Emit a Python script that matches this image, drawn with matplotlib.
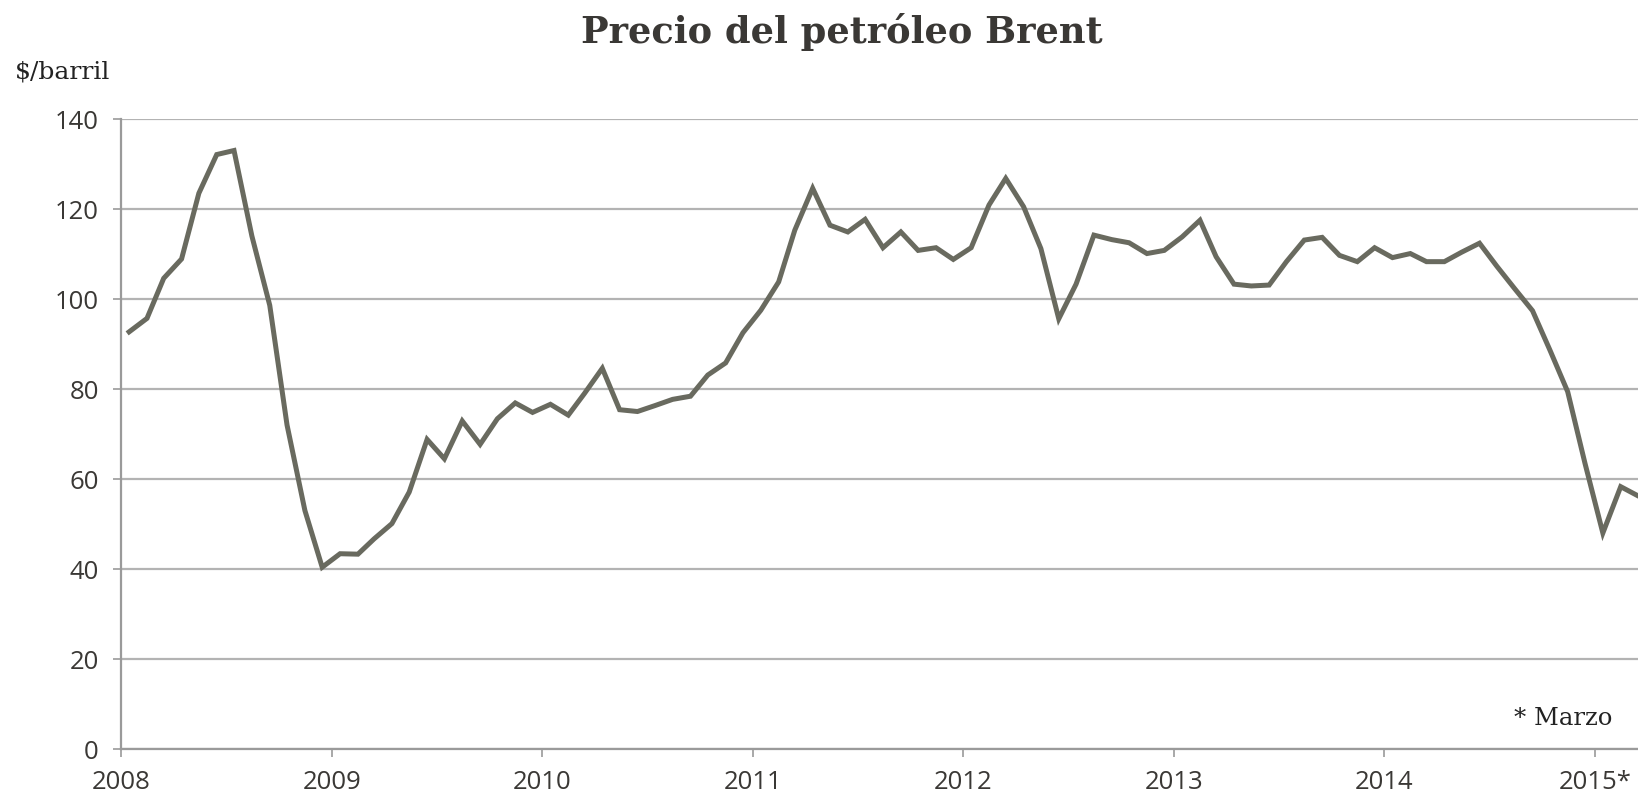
import pandas as pd
import matplotlib.pyplot as plt

# monthly Brent price, $/barrel, Jan 2008 - Mar 2015
p2008 = [92.7, 95.7, 104.6, 108.9, 123.5, 132.1, 133.0, 114.0, 98.6, 72.0, 53.0, 40.4]
p2009 = [43.4, 43.3, 46.7, 50.1, 57.1, 68.8, 64.5, 72.9, 67.7, 73.4, 76.9, 74.8]
p2010 = [76.6, 74.2, 79.0, 84.6, 75.4, 75.0, 76.3, 77.7, 78.4, 83.1, 85.8, 92.5]
p2011 = [97.5, 103.8, 115.3, 124.6, 116.4, 114.9, 117.7, 111.4, 114.9, 110.8, 111.4, 108.8]
p2012 = [111.4, 120.9, 126.8, 120.5, 111.2, 95.6, 103.3, 114.2, 113.2, 112.5, 110.1, 110.8]
p2013 = [113.8, 117.5, 109.4, 103.3, 102.9, 103.1, 108.3, 113.1, 113.7, 109.7, 108.3, 111.4]
p2014 = [109.2, 110.1, 108.3, 108.3, 110.4, 112.4, 107.3, 102.3, 97.4, 88.7, 79.4, 63.5]
p2015 = [48.0, 58.3, 56.4]

prices = p2008 + p2009 + p2010 + p2011 + p2012 + p2013 + p2014 + p2015
dates = pd.date_range("2008-01-01", periods=len(prices), freq="MS") + pd.Timedelta(days=14)

years = ["2008", "2009", "2010", "2011", "2012", "2013", "2014", "2015*"]
year_ticks = pd.to_datetime([f"{y}-01-01" for y in range(2008, 2016)])
y_ticks = list(range(0, 141, 20))

line_col = "#696a5f"
grid_col = "#b3b3b3"
text_col = "#3a3835"

fig = plt.figure(figsize=(16.38, 7.96), dpi=100)
ax = fig.add_axes([0.0739, 0.059, 1 - 0.0739, 0.7915])

ax.plot(dates, prices, color=line_col, lw=3.6, solid_joinstyle="miter")

ax.set_ylim(0, 140)
ax.set_xlim(pd.Timestamp("2008-01-01"), pd.Timestamp("2015-03-17"))
ax.set_yticks(y_ticks)
ax.set_xticks(year_ticks)
ax.set_xticklabels(years)

ax.grid(axis="y", color=grid_col, lw=1.6)
ax.set_axisbelow(True)
for s in ["top", "right"]:
    ax.spines[s].set_visible(False)
for s in ["left", "bottom"]:
    ax.spines[s].set_color("#9a9a9a")
    ax.spines[s].set_linewidth(1.6)

ax.tick_params(axis="both", colors="#9a9a9a", labelcolor=text_col,
               length=6, width=1.2, labelsize=18.5)
ax.tick_params(axis="y", pad=10)
ax.tick_params(axis="x", pad=9)
for lab in ax.get_xticklabels() + ax.get_yticklabels():
    lab.set_fontfamily("Open Sans")

fig.text(0.514, 0.96, "Precio del petróleo Brent", ha="center", va="center",
         fontsize=26.5, fontweight="bold", family="DejaVu Serif", color=text_col)
fig.text(0.009, 0.91, "$/barril", ha="left", va="center",
         fontsize=18, family="DejaVu Serif", color="#222222")
ax.text(0.983, 0.048, "* Marzo", transform=ax.transAxes, ha="right", va="center",
        fontsize=17.5, family="DejaVu Serif", color="#222222")

plt.savefig("out.png", dpi=100)
